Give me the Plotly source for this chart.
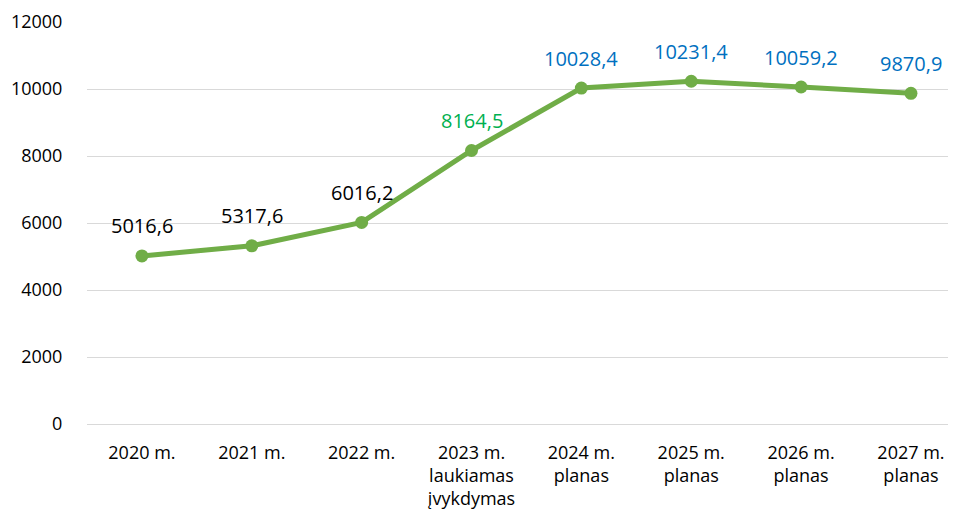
import plotly.graph_objects as go

categories = ["2020 m.", "2021 m.", "2022 m.", "2023 m.<br>laukiamas<br>įvykdymas",
              "2024 m.<br>planas", "2025 m.<br>planas", "2026 m.<br>planas", "2027 m.<br>planas"]
values = [5016.6, 5317.6, 6016.2, 8164.5, 10028.4, 10231.4, 10059.2, 9870.9]
label_colors = ["#000000", "#000000", "#000000", "#00B050",
                "#0070C0", "#0070C0", "#0070C0", "#0070C0"]
y_ticks = [0, 2000, 4000, 6000, 8000, 10000, 12000]
y_tick_labels = ["0", "2000", "4000", "6000", "8000", "10000", "12000"]

FONT = "Open Sans"

fig = go.Figure()
fig.add_trace(go.Scatter(
    x=list(range(len(categories))), y=values, mode="lines+markers",
    line=dict(color="#70AD47", width=5),
    marker=dict(color="#70AD47", size=13),
    hoverinfo="skip", showlegend=False,
))

for i, (v, c) in enumerate(zip(values, label_colors)):
    fig.add_annotation(x=i, y=v, text=f"{v:.1f}".replace(".", ","),
                       showarrow=False, yshift=30,
                       font=dict(family=FONT, size=20, color=c))

# page body has an 8px margin; size the figure so it fills the 956x516 window
fig.update_layout(
    width=948, height=508,
    margin=dict(l=79, r=0, t=14, b=92),
    paper_bgcolor="white", plot_bgcolor="white",
    font=dict(family=FONT, size=18, color="#000000"),
    xaxis=dict(
        tickmode="array", tickvals=list(range(len(categories))), ticktext=categories,
        range=[-0.5, 7.41], showgrid=False, zeroline=False, showline=False,
        ticks="outside", ticklen=12, tickcolor="rgba(0,0,0,0)",
        tickfont=dict(family=FONT, size=18), automargin=False,
    ),
    yaxis=dict(
        range=[0, 12000], tickmode="array", tickvals=y_ticks, ticktext=y_tick_labels,
        showgrid=True, gridcolor="#D9D9D9",
        gridwidth=1, zeroline=True, zerolinecolor="#D9D9D9", zerolinewidth=1,
        showline=False, ticks="outside", ticklen=20, tickcolor="rgba(0,0,0,0)",
        tickfont=dict(family=FONT, size=18), automargin=False,
    ),
)

fig.write_html("out.html")
